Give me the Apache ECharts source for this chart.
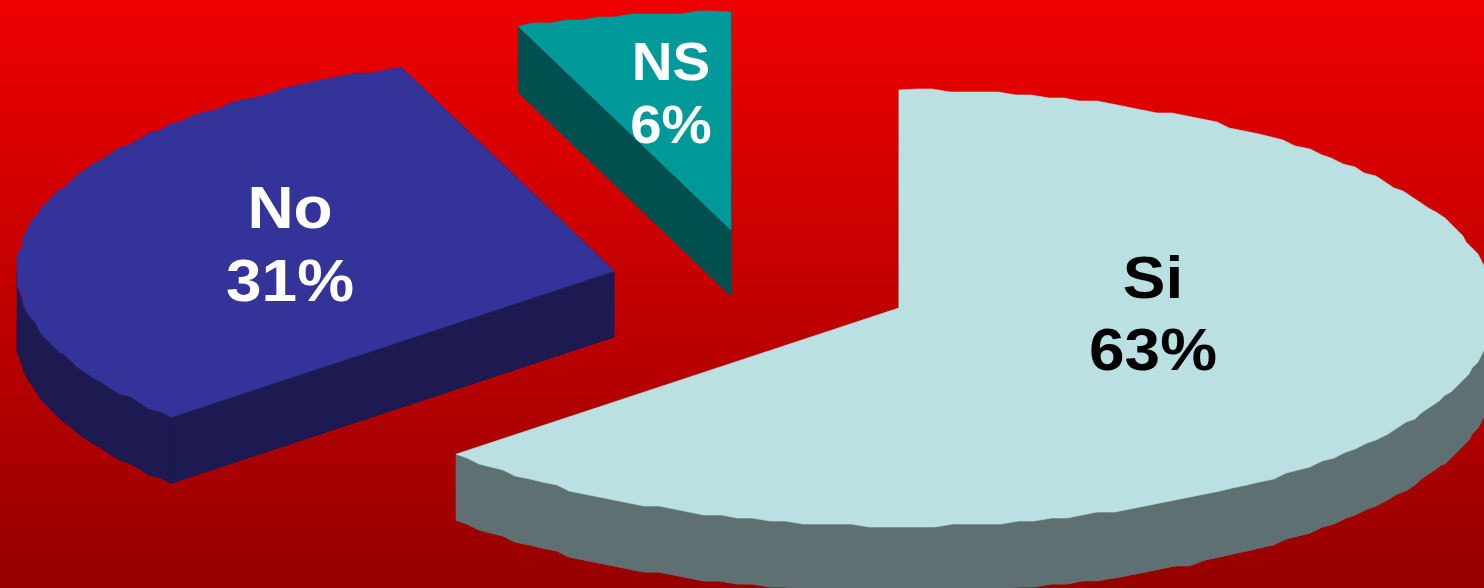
<!DOCTYPE html>
<html><head><meta charset="utf-8">
<style>html,body{margin:0;padding:0;background:#900}#c{width:1484px;height:588px}</style>
<script src="https://cdn.jsdelivr.net/npm/echarts@6/dist/echarts.min.js"></script>
</head><body><div id="c"></div>
<script>
const categories = ['Si', 'No', 'NS'];
const seriesValues = [63.3, 30.9, 5.8];
const topColors = ['#BAE0E2', '#333399', '#009999'];
const sideColors = ['#5F7072', '#1C1A50', '#005050'];
const labelColors = ['#000000', '#FFFFFF', '#FFFFFF'];

// layout of the tilted pie
const pie = { cx: 899, cy: 308, rx: 597, ry: 218, depth: 66, jag: 3 };
const explode = [[0, 0], [-285, -37], [-168, -78]];
const labelOffset = [[254, 9], [-324, -23], [-60, -133]];
const labelFont = [60, 60, 53];
const labelLine = [72, 73, 63];
const labelStretch = 1.065;

const total = seriesValues.reduce((a, b) => a + b, 0);
const starts = [];
seriesValues.reduce((acc, v, i) => { starts[i] = acc; return acc + v / total * 360; }, 0);

function pt(cx, cy, deg) {
  const r = deg * Math.PI / 180, j = pie.jag;
  const x = pie.rx * Math.sin(r), y = -pie.ry * Math.cos(r);
  return [cx + Math.round(x / j) * j, cy + Math.round(y / j) * j];
}
function arc(cx, cy, a0, a1) {
  const out = [], n = Math.max(1, Math.round((a1 - a0) / 1.6));
  for (let k = 0; k <= n; k++) {
    const a = a0 + (a1 - a0) * k / n;
    const exact = k === 0 || k === n;
    if (exact) {
      const r = a * Math.PI / 180;
      out.push([cx + pie.rx * Math.sin(r), cy - pie.ry * Math.cos(r)]);
    } else out.push(pt(cx, cy, a));
  }
  return out;
}
function poly(points, fill) {
  return { type: 'polygon', shape: { points }, style: { fill, stroke: fill, lineWidth: 0.6 } };
}
function renderItem(params, api) {
  const i = api.value(1), v = api.value(0);
  const a0 = starts[i], a1 = a0 + v / total * 360;
  const cx = pie.cx + explode[i][0], cy = pie.cy + explode[i][1], d = pie.depth;
  const rim = arc(cx, cy, a0, a1);
  const tip = [cx, cy];
  const down = p => [p[0], p[1] + d];
  const children = [];
  children.push(poly([tip].concat(rim).map(down), sideColors[i]));
  children.push(poly([tip, rim[0], down(rim[0]), down(tip)], sideColors[i]));
  const last = rim[rim.length - 1];
  children.push(poly([tip, last, down(last), down(tip)], sideColors[i]));
  const f0 = Math.max(a0, 90), f1 = Math.min(a1, 270);
  if (f1 > f0) {
    const band = arc(cx, cy, f0, f1);
    children.push(poly(band.concat(band.slice().reverse().map(down)), sideColors[i]));
  }
  children.push(poly([tip].concat(rim), topColors[i]));
  children.push({
    type: 'text',
    x: cx + labelOffset[i][0], y: cy + labelOffset[i][1],
    scaleX: labelStretch, scaleY: 1,
    style: {
      text: categories[i] + '\n' + Math.round(v) + '%',
      x: 0, y: 0,
      align: 'center', verticalAlign: 'middle',
      fontFamily: '"Liberation Sans", Arial, sans-serif', fontWeight: 'bold',
      fontSize: labelFont[i], lineHeight: labelLine[i], fill: labelColors[i]
    }
  });
  return { type: 'group', children };
}
const chart = echarts.init(document.getElementById('c'), null, { renderer: 'canvas' });
chart.setOption({
  animation: false,
  backgroundColor: { type: 'linear', x: 0, y: 0, x2: 0, y2: 1,
    colorStops: [{ offset: 0, color: '#EE0000' }, { offset: 1, color: '#960000' }] },
  series: [{
    type: 'custom', coordinateSystem: 'none', renderItem, silent: true,
    data: seriesValues.map((v, i) => [v, i])
  }]
});
</script></body></html>
